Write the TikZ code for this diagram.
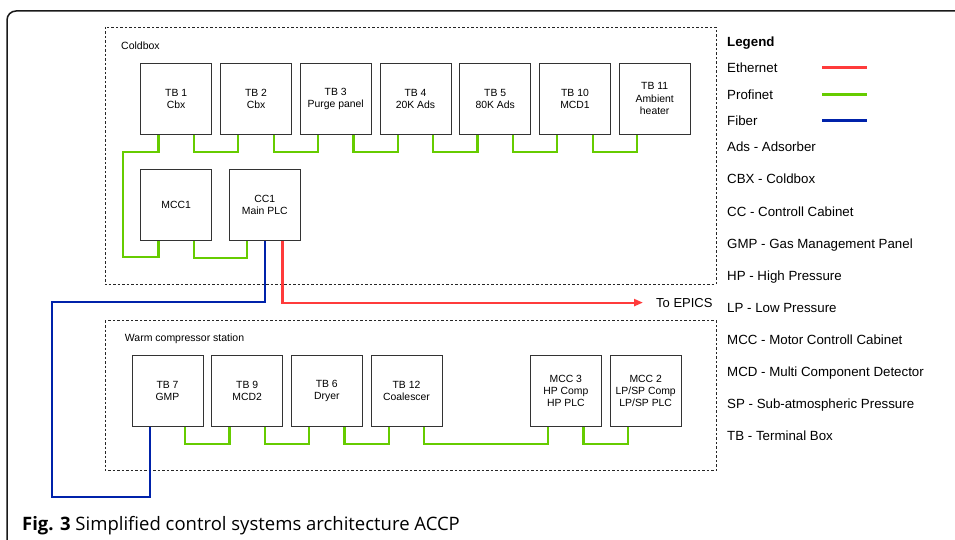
\documentclass[tikz,border=0pt]{standalone}
\usepackage{fontspec}
\setmainfont{Liberation Sans}
\newfontfamily\capfont{Open Sans}
\usetikzlibrary{calc,arrows.meta}
\definecolor{ethred}{HTML}{FF3B3B}
\definecolor{pngreen}{HTML}{66CC00}
\definecolor{fibblue}{HTML}{0022AA}
\begin{document}
\begin{tikzpicture}[x=1pt,y=-1pt,
  unit/.style={draw=black!80,line width=0.9pt,fill=white,minimum width=71pt,
    minimum height=71pt,inner sep=0pt,align=center,
    font=\fontsize{10.4}{12.3}\selectfont},
  area/.style={draw=black!85,dash pattern=on 2.5pt off 2pt,line width=0.8pt},
  arealabel/.style={anchor=west,inner sep=0pt,font=\fontsize{10.5}{12.6}\selectfont},
  profinet/.style={draw=pngreen,line width=2.2pt,line join=miter},
  ethernet/.style={draw=ethred,line width=2.2pt},
  fiber/.style={draw=fibblue,line width=2.2pt,line join=miter},
  swatch/.style={line width=2.7pt},
  lgtext/.style={anchor=base west,inner sep=0pt,font=\fontsize{13.3}{16}\selectfont},
  ]
\useasboundingbox (0,0) rectangle (955,540);

% outer frame, open towards the right and the bottom
\draw[line width=1.5pt,black!90,rounded corners=9pt] (7,560) -- (7,11) -- (975,11);

% areas
\draw[area] (105,27) rectangle (716,284.3);
\draw[area] (105,320.7) rectangle (716,470.7);
\node[arealabel] (coldlbl) at (121,45.7) {Coldbox};
\node[arealabel] (warmlbl) at (124.7,338.7) {Warm compressor station};

% coldbox units
\node[unit] (tb1)  at (176.2,98.7) {TB 1\\Cbx};
\node[unit] (tb2)  at (256.0,98.7) {TB 2\\Cbx};
\node[unit] (tb3)  at (335.7,98.7) {TB 3\\Purge panel};
\node[unit] (tb4)  at (415.5,98.7) {TB 4\\20K Ads};
\node[unit] (tb5)  at (495.2,98.7) {TB 5\\80K Ads};
\node[unit] (tb10) at (575.0,98.7) {TB 10\\MCD1};
\node[unit] (tb11) at (654.7,98.7) {TB 11\\Ambient\\heater};
\node[unit] (mcc1) at (176.2,205) {MCC1};
\node[unit] (cc1)  at (264.8,205) {CC1\\Main PLC};

% warm compressor station units
\node[unit] (tb7)  at (167.5,391) {TB 7\\GMP};
\node[unit] (tb9)  at (247.2,391) {TB 9\\MCD2};
\node[unit] (tb6)  at (326.8,391) {TB 6\\Dryer};
\node[unit] (tb12) at (406.5,391) {TB 12\\Coalescer};
\node[unit] (mcc3) at (565.8,391) {MCC 3\\HP Comp\\HP PLC};
\node[unit] (mcc2) at (645.7,391) {MCC 2\\LP/SP Comp\\LP/SP PLC};

% profinet chain in the coldbox
\coordinate (pnloop) at (123,257);
\draw[profinet] ([xshift=-17.75pt]tb1.south) -- ++(0,17.7) -| (pnloop)
  -| ([xshift=-17.75pt]mcc1.south);
\foreach \a/\b in {tb1/tb2,tb2/tb3,tb3/tb4,tb4/tb5,tb5/tb10,tb10/tb11}{
  \draw[profinet] ([xshift=17.75pt]\a.south) -- ++(0,17.7) -| ([xshift=-17.75pt]\b.south);
}
\draw[profinet] ([xshift=17.75pt]mcc1.south) -- ++(0,16.7) -| ([xshift=-17.75pt]cc1.south);

% profinet chain in the warm compressor station
\foreach \a/\b in {tb7/tb9,tb9/tb6,tb6/tb12,tb12/mcc3,mcc3/mcc2}{
  \draw[profinet] ([xshift=17.75pt]\a.south) -- ++(0,17.4) -| ([xshift=-17.75pt]\b.south);
}

% fiber link from the main PLC to the gas management panel
\coordinate (fibtop) at (52,302);
\coordinate (fibbot) at (52,497.3);
\draw[fiber] (cc1.south) |- (fibtop) -- (fibbot) -| ([xshift=-17.75pt]tb7.south);

% ethernet uplink
\node[anchor=west,inner sep=0pt,font=\fontsize{13}{15.6}\selectfont] (epics) at (656,302.6) {To EPICS};
\draw[ethernet,-{Triangle[length=9pt,width=7pt]}] ([xshift=17.75pt]cc1.south) |- ([xshift=-13pt]epics.west);

% legend
\node[lgtext,font=\fontsize{13.3}{16}\selectfont\bfseries] (lghead) at (727,46.5) {Legend};
\node[lgtext] (lgeth) at (727,72.8) {Ethernet};
\node[lgtext] (lgpn)  at (727,99.3) {Profinet};
\node[lgtext] (lgfib) at (727,125.7) {Fiber};
\coordinate (swa) at (822,67.3);  \coordinate (swb) at (867,67.3);
\coordinate (swc) at (822,94.3);  \coordinate (swd) at (867,94.3);
\coordinate (swe) at (822,120.3); \coordinate (swf) at (867,120.3);
\draw[ethernet,swatch] (swa) -- (swb);
\draw[profinet,swatch] (swc) -- (swd);
\draw[fiber,swatch] (swe) -- (swf);
\node[lgtext] (ab1)  at (727,152) {Ads - Adsorber};
\node[lgtext] (ab2)  at (727,184) {CBX - Coldbox};
\node[lgtext] (ab3)  at (727,216) {CC - Controll Cabinet};
\node[lgtext] (ab4)  at (727,248) {GMP - Gas Management Panel};
\node[lgtext] (ab5)  at (727,280) {HP - High Pressure};
\node[lgtext] (ab6)  at (727,312) {LP - Low Pressure};
\node[lgtext] (ab7)  at (727,344) {MCC - Motor Controll Cabinet};
\node[lgtext] (ab8)  at (727,376) {MCD - Multi Component Detector};
\node[lgtext] (ab9)  at (727,408) {SP - Sub-atmospheric Pressure};
\node[lgtext] (ab10) at (727,440) {TB - Terminal Box};

% caption
\node[anchor=base west,inner sep=0pt,font=\capfont\fontsize{18.5}{22}\selectfont] (caption)
  at (22,530) {\textbf{Fig. 3} Simplified control systems architecture ACCP};
\end{tikzpicture}
\end{document}
